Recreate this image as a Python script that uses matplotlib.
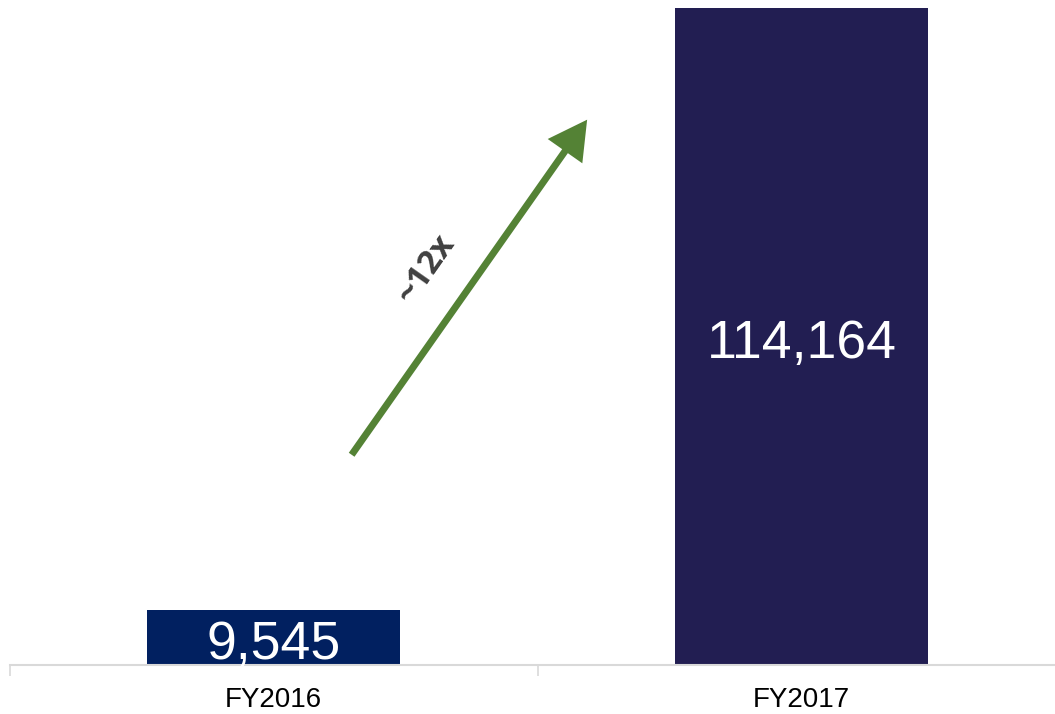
import matplotlib
matplotlib.use("Agg")
import matplotlib.pyplot as plt

# Fiscal-year totals
YEARS = ["FY2016", "FY2017"]
VALUES = [9545, 114164]
BAR_COLORS = ["#012060", "#221E52"]
GROWTH_LABEL = "~12x"

plt.rcParams["font.family"] = ["Liberation Sans", "DejaVu Sans"]

fig = plt.figure(figsize=(10.55, 7.14), dpi=100)
# axes runs off the right edge so the category grid lines up
ax = fig.add_axes([9.5 / 1055, 49 / 714, 1056 / 1055, 657 / 714])

x = range(len(YEARS))
bars = ax.bar(x, VALUES, width=0.48, color=BAR_COLORS, zorder=2)

for bar, val in zip(bars, VALUES):
    ax.annotate(f"{val:,}", (bar.get_x() + bar.get_width() / 2, val / 2),
                xytext=(0, -1.5), textcoords="offset points",
                ha="center", va="center_baseline", color="white", fontsize=38.5)

ax.set_xlim(-0.5, 1.5)
ax.set_ylim(0, max(VALUES))
ax.set_yticks([])
ax.set_xticks(list(x))
ax.set_xticklabels(YEARS, fontsize=20)
ax.tick_params(axis="x", which="major", length=0, pad=16)
ax.set_xticks([-0.5, 0.5, 1.5], minor=True)
ax.tick_params(axis="x", which="minor", length=8, width=1.2, color="#d9d9d9")

for side in ["left", "right", "top"]:
    ax.spines[side].set_visible(False)
ax.spines["bottom"].set_color("#d9d9d9")
ax.spines["bottom"].set_linewidth(1.5)

# growth arrow
arrow = ax.annotate("", xy=(0.547, 0.83), xytext=(0.324, 0.32),
                    xycoords="axes fraction", textcoords="axes fraction",
                    arrowprops=dict(arrowstyle="-|>,head_length=1.0,head_width=0.55",
                                    lw=5, color="#548235", shrinkA=0, shrinkB=0,
                                    mutation_scale=20))
arrow.arrow_patch.set_capstyle("butt")
arrow.arrow_patch.set_joinstyle("miter")
ax.text(0.395, 0.603, GROWTH_LABEL, transform=ax.transAxes, rotation=55,
        ha="center", va="center", fontsize=24, color="#404040",
        fontweight="bold", family=["Open Sans", "DejaVu Sans"])

fig.savefig("out.png", dpi=100)
